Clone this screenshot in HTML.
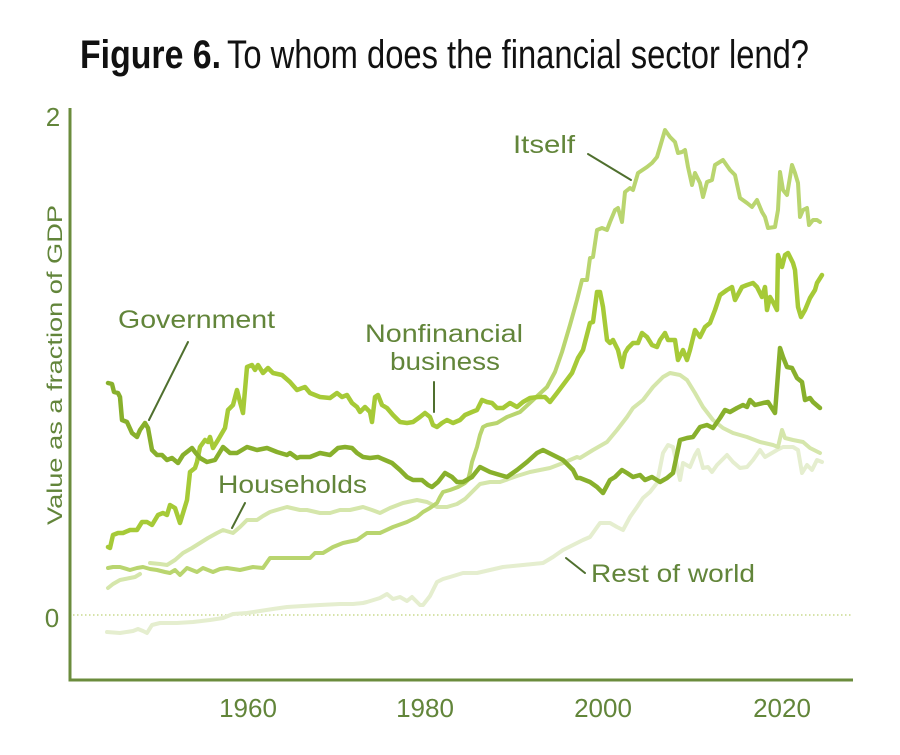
<!DOCTYPE html>
<html>
<head>
<meta charset="utf-8">
<style>
html,body{margin:0;padding:0;background:#fff;}
svg{display:block;}
text{font-family:"Liberation Sans",Arial,sans-serif;}
</style>
</head>
<body>
<svg width="900" height="755" viewBox="0 0 900 755" xmlns="http://www.w3.org/2000/svg">
<rect width="900" height="755" fill="#fff"/>
<!-- Title -->
<text x="80" y="68" font-size="40" font-weight="bold" fill="#111" textLength="141" lengthAdjust="spacingAndGlyphs">Figure 6.</text>
<text x="227" y="68" font-size="40" fill="#111" textLength="582" lengthAdjust="spacingAndGlyphs">To whom does the financial sector lend?</text>

<!-- zero dotted line -->
<line x1="73" y1="615" x2="853" y2="615" stroke="#c9da8e" stroke-width="1.5" stroke-dasharray="1.5 2.5"/>

<!-- axes -->
<line x1="70" y1="108" x2="70" y2="681.5" stroke="#6b8c3c" stroke-width="3"/>
<line x1="68.5" y1="680" x2="853" y2="680" stroke="#6b8c3c" stroke-width="3"/>

<!-- tick labels -->
<g fill="#62853a" font-size="26" text-anchor="middle">
<text x="53" y="126">2</text>
<text x="52" y="627">0</text>
<text x="248" y="717">1960</text>
<text x="425" y="717">1980</text>
<text x="603" y="717">2000</text>
<text x="782" y="717">2020</text>
</g>
<text transform="translate(62,525) rotate(-90)" font-size="21" fill="#62853a" textLength="320" lengthAdjust="spacingAndGlyphs">Value as a fraction of GDP</text>

<g fill="none" stroke-linejoin="round" stroke-linecap="round">
<!-- Rest of world -->
<polyline stroke="#e5eecf" stroke-width="4" points="107,632 120,633 133,631 138,629 143,631 147,633 152,625 160,623 177,623 193,622 210,620 223,618 233,614 247,613 260,611 273,609 287,607 303,606 320,605 340,604 353,604 363,603 367,602 380,598 387,594 393,599 400,597 407,601 412,597 420,605 423,605 430,596 437,582 443,579 450,577 463,573 477,573 490,570 503,567 523,565 543,563 553,557 563,550 573,545 583,540 590,537 600,523 610,523 617,527 623,530 630,517 637,507 643,498 650,492 657,483 663,453 668,445 673,447 680,480 683,463 690,467 695,455 698,450 703,468 708,467 712,472 717,465 722,460 727,455 733,462 740,468 747,467 753,460 760,450 765,457 772,453 777,450 783,447 793,447 798,450 802,473 807,465 812,470 817,460 822,462"/>
<!-- Households -->
<polyline stroke="#d5e6ab" stroke-width="4" points="108,588 113,584 120,580 125,579 130,578 135,577 140,574"/>
<polyline stroke="#d5e6ab" stroke-width="4" points="150,563 160,564 167,565 175,560 183,553 192,548 200,543 208,538 217,533 223,530 233,533 240,527 247,520 257,520 263,516 270,512 280,509 287,507 300,510 307,510 320,513 330,513 340,510 350,510 363,507 372,510 380,513 390,508 403,503 417,500 427,502 437,507 447,507 457,504 465,499 472,492 480,484 490,482 500,482 517,476 530,472 550,468 563,463 577,457 580,458 593,450 607,442 617,430 627,417 633,408 643,400 653,387 663,377 670,373 680,375 687,380 695,393 703,407 713,420 723,428 733,433 747,437 760,442 773,445 778,447 782,430 785,438 793,440 803,442 810,448 820,453"/>
<!-- Itself -->
<polyline stroke="#b9d56f" stroke-width="4" points="108,568 113,567 120,567 130,570 137,568 143,567 150,569 157,570 165,572 170,573 175,570 180,575 187,568 197,572 203,568 213,572 220,569 227,568 240,570 253,567 263,568 270,558 287,558 300,558 310,558 315,553 323,553 333,547 343,543 357,540 367,533 380,533 393,527 407,522 417,517 423,512 430,508 437,503 440,497 443,492 450,490 458,487 465,483 468,480 470,472 472,462 477,447 480,435 483,427 487,425 497,423 507,417 520,412 533,400 547,387 555,372 562,352 570,325 577,300 582,280 587,280 590,258 593,257 597,230 602,228 607,230 610,222 615,210 618,208 622,222 625,192 630,188 633,190 638,173 647,167 652,163 657,157 660,147 665,130 670,137 675,142 678,153 682,152 685,150 688,167 692,185 695,173 700,183 703,197 707,182 712,180 715,165 723,160 730,170 735,175 740,198 747,203 752,207 757,200 762,212 765,217 768,228 775,227 778,210 780,172 783,190 787,195 792,165 795,173 798,183 800,217 803,210 807,208 809,225 813,220 817,220 820,222"/>
<!-- Nonfinancial business -->
<polyline stroke="#a6ca37" stroke-width="4.5" points="108,547 110,548 113,535 118,533 123,533 130,530 137,530 142,522 147,522 152,525 158,515 163,513 167,515 170,505 175,508 180,523 187,500 190,472 195,468 197,462 200,447 205,440 208,442 210,437 213,448 218,440 225,428 228,410 233,405 237,390 240,402 243,413 247,367 252,365 255,370 258,365 263,373 268,368 273,373 282,375 290,382 297,390 305,387 310,393 320,397 330,398 337,393 342,397 347,395 352,403 357,407 360,412 365,407 370,412 372,422 375,397 378,395 382,405 387,408 393,415 400,422 407,423 413,422 420,417 425,413 430,417 433,425 437,427 442,423 447,420 453,423 460,420 465,415 472,412 477,410 482,400 487,402 492,403 497,408 503,408 510,403 517,407 523,402 530,398 538,397 545,397 550,402 557,393 563,385 572,373 578,358 583,350 590,323 593,322 597,292 600,292 603,307 607,340 610,343 613,340 618,350 622,367 625,353 628,348 633,343 638,343 642,333 647,337 652,345 657,347 660,340 665,333 668,340 675,340 678,360 683,350 687,360 690,350 695,330 700,337 705,327 710,323 715,310 720,295 727,290 732,287 735,300 742,287 747,285 753,283 757,287 762,297 765,287 767,310 770,297 773,302 777,310 778,255 782,267 785,255 788,253 793,263 795,270 798,307 801,317 805,310 810,298 815,290 817,283 822,275"/>
<!-- Government -->
<polyline stroke="#88b02c" stroke-width="4.5" points="108,383 112,384 114,392 118,393 120,397 122,420 127,422 132,433 137,437 140,430 145,423 148,428 152,450 157,455 162,455 167,460 172,458 178,463 183,455 192,448 195,452 200,458 207,462 215,460 223,447 230,453 237,453 247,447 257,450 267,448 277,452 287,455 290,453 297,458 300,457 310,457 320,453 330,455 338,448 345,447 352,448 357,453 363,457 370,458 378,457 385,460 392,463 400,470 407,477 413,480 422,480 428,485 432,487 438,482 445,473 452,477 457,482 463,482 472,477 480,467 490,472 500,475 507,477 517,470 527,462 537,453 543,450 553,455 563,460 573,470 577,478 580,478 590,482 597,487 603,493 610,480 615,477 622,470 627,473 633,477 640,475 645,480 652,477 660,482 667,478 673,473 680,440 687,438 693,437 700,427 707,425 713,428 720,418 725,410 730,412 737,408 743,405 747,407 750,400 755,405 763,403 768,402 775,413 780,348 783,357 787,367 792,368 797,378 802,382 805,400 810,398 813,402 820,408"/>
</g>

<!-- leader lines -->
<g stroke="#4f6f2e" stroke-width="2" stroke-linecap="round">
<line x1="188" y1="342" x2="149" y2="420"/>
<line x1="434" y1="382" x2="434" y2="412"/>
<line x1="245" y1="503" x2="232" y2="528"/>
<line x1="588" y1="154" x2="631" y2="180"/>
<line x1="566" y1="558" x2="585" y2="573"/>
</g>

<!-- series labels -->
<g fill="#62853a" font-size="25">
<text x="118" y="328" textLength="157" lengthAdjust="spacingAndGlyphs">Government</text>
<text x="365" y="342" textLength="158" lengthAdjust="spacingAndGlyphs">Nonfinancial</text>
<text x="390" y="370" textLength="110" lengthAdjust="spacingAndGlyphs">business</text>
<text x="218" y="493" textLength="149" lengthAdjust="spacingAndGlyphs">Households</text>
<text x="513" y="153" textLength="62" lengthAdjust="spacingAndGlyphs">Itself</text>
<text x="591" y="582" textLength="164" lengthAdjust="spacingAndGlyphs">Rest of world</text>
</g>
</svg>
</body>
</html>
